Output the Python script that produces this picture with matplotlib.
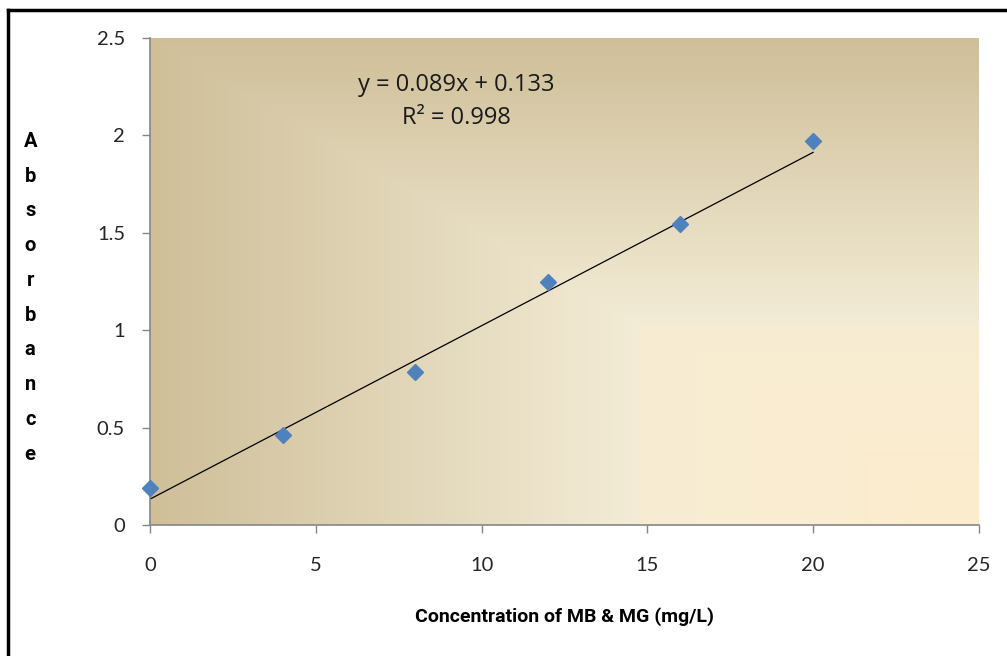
import numpy as np
import matplotlib
matplotlib.use("Agg")
import matplotlib.pyplot as plt
from matplotlib.lines import Line2D

# calibration data
conc = [0, 4, 8, 12, 16, 20]
absorbance = [0.19, 0.46, 0.785, 1.245, 1.545, 1.97]
slope, intercept = 0.089, 0.133
x_ticks = [0, 5, 10, 15, 20, 25]
y_ticks = [0, 0.5, 1, 1.5, 2, 2.5]
y_tick_labels = ["0", "0.5", "1", "1.5", "2", "2.5"]

fig = plt.figure(figsize=(10.07, 6.56), dpi=100)
ax = fig.add_axes([0.149, 0.1997, 0.823, 0.7423])

### background: rectangular "from corner" gradient, corner at bottom right
h, w = 300, 450
v, u = np.mgrid[1:0:h * 1j, 1:0:w * 1j]   # u: 1 at left, 0 at right; v: 1 top, 0 bottom
t = np.maximum(u, v)
peach0 = np.array([253, 236, 206])
peach1 = np.array([247, 236, 211])
cream = np.array([243, 236, 214])
tan = np.array([207, 191, 153])
a = np.clip(t / 0.41, 0, 1)[..., None]
b = np.clip((t - 0.41) / 0.59, 0, 1)[..., None]
img = np.where(t[..., None] < 0.41,
               peach0 * (1 - a) + peach1 * a,
               cream * (1 - b) + tan * b)
ax.imshow(img.astype(np.uint8), extent=[0, 25, 0, 2.5], aspect="auto",
          zorder=0, interpolation="bilinear")

### trendline + points
fit_x = np.array([min(conc), max(conc)])
ax.plot(fit_x, slope * fit_x + intercept, color="black", lw=0.9, zorder=2)
ax.plot(conc, absorbance, ls="none", marker="D", ms=8.5, color="#4F81BD",
        clip_on=False, zorder=3)

ax.set_xlim(0, 25)
ax.set_ylim(0, 2.5)
ax.set_xticks(x_ticks)
ax.set_yticks(y_ticks)
ax.set_yticklabels(y_tick_labels)
for s in ["top", "right"]:
    ax.spines[s].set_visible(False)
for s in ["left", "bottom"]:
    ax.spines[s].set_color("#868686")
    ax.spines[s].set_linewidth(1.2)
ax.tick_params(colors="#868686", labelcolor="#262626", length=6, width=1,
               labelsize=14.5)
for lab in ax.get_xticklabels() + ax.get_yticklabels():
    lab.set_family(["Lato", "DejaVu Sans"])
ax.tick_params(axis="x", pad=17)
ax.tick_params(axis="y", pad=12)

eq_font = dict(ha="center", va="center", fontsize=17, fontweight=500,
               family=["Open Sans", "DejaVu Sans"], color="#1a1a1a")
ax.text(9.25, 2.26, "y = 0.089x + 0.133", **eq_font)
ax.text(9.25, 2.09, "R\u00b2 = 0.998", **eq_font)

label_font = ["Liberation Sans Narrow", "Roboto", "DejaVu Sans"]
ax.set_xlabel("Concentration of MB & MG (mg/L)", family=label_font,
              fontweight="bold", fontsize=14, labelpad=24)
fig.text(0.03, 0.546, "\n".join("Absorbance"), ha="center", va="center",
         family=label_font, fontweight="bold", fontsize=14.5,
         linespacing=2.05)

# chart border (top + left only visible in the crop)
fig.add_artist(Line2D([0.008, 1.0], [0.985, 0.985], color="black", lw=2.5,
                      transform=fig.transFigure))
fig.add_artist(Line2D([0.008, 0.008], [0.0, 0.985], color="black", lw=2.5,
                      transform=fig.transFigure))

fig.savefig("out.png", dpi=100)
